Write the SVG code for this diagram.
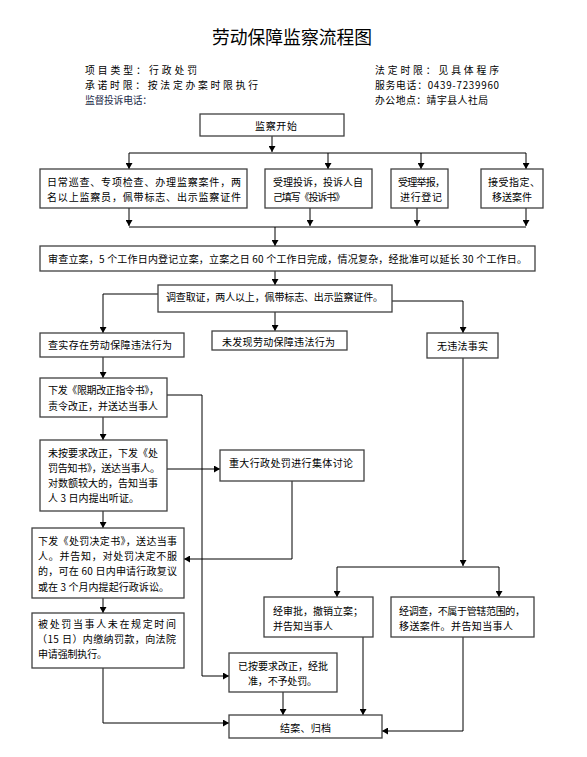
<svg xmlns="http://www.w3.org/2000/svg" width="587" height="757" viewBox="0 0 587 757">
<style>
text{font-family:"Noto Sans CJK SC","Noto Sans",sans-serif;fill:#000;}
.t{font-size:10px;}
.h{font-size:9.8px;}
.box{fill:#fff;stroke:#404040;stroke-width:1.3;}
.ln{fill:none;stroke:#000;stroke-width:1;}
</style>
<defs>
<marker id="ar" markerUnits="userSpaceOnUse" markerWidth="6" markerHeight="7" refX="6" refY="3.5" orient="auto">
<path d="M0,0 L6,3.5 L0,7 z" fill="#000"/>
</marker>
</defs>
<rect width="587" height="757" fill="#fff"/>
<g id="header">
<text x="292" y="44" font-size="18" text-anchor="middle" textLength="160" lengthAdjust="spacingAndGlyphs">劳动保障监察流程图</text>
<text class="h" x="85" y="73.5" textLength="112">项目类型：行政处罚</text>
<text class="h" x="85" y="88.5" textLength="173">承诺时限：按法定办案时限执行</text>
<text class="h" x="85" y="103.5" textLength="67" style="fill:#1c2b4a">监督投诉电话：</text>
<text class="h" x="375" y="73.5" textLength="124">法定时限：见具体程序</text>
<text class="h" x="375" y="88.5" textLength="124">服务电话：0439-7239960</text>
<text class="h" x="375" y="103.5" textLength="113">办公地点：靖宇县人社局</text>
</g>
<g id="connectors">
<path class="ln" d="M272,136 V152" marker-end="url(#ar)"/>
<path class="ln" d="M129,153 H526"/>
<path class="ln" d="M129,153 V169" marker-end="url(#ar)"/>
<path class="ln" d="M328,153 V169" marker-end="url(#ar)"/>
<path class="ln" d="M421,153 V169" marker-end="url(#ar)"/>
<path class="ln" d="M526,153 V169" marker-end="url(#ar)"/>
<path class="ln" d="M129,208 V226" marker-end="url(#ar)"/>
<path class="ln" d="M310,208 V226" marker-end="url(#ar)"/>
<path class="ln" d="M417,208 V226" marker-end="url(#ar)"/>
<path class="ln" d="M526,208 V226" marker-end="url(#ar)"/>
<path class="ln" d="M129,227 H526"/>
<path class="ln" d="M275,227 V246" marker-end="url(#ar)"/>
<path class="ln" d="M275,271 V285" marker-end="url(#ar)"/>
<path class="ln" d="M158,294 H103 V333" marker-end="url(#ar)"/>
<path class="ln" d="M392,301 H463 V333" marker-end="url(#ar)"/>
<path class="ln" d="M275,312 V331" marker-end="url(#ar)"/>
<path class="ln" d="M103,357 V378" marker-end="url(#ar)"/>
<path class="ln" d="M167,395 H202 V676 H229" marker-end="url(#ar)"/>
<path class="ln" d="M103,417 V440" marker-end="url(#ar)"/>
<path class="ln" d="M167,469 H220" marker-end="url(#ar)"/>
<path class="ln" d="M292,481 V559 H184" marker-end="url(#ar)"/>
<path class="ln" d="M103,511 V528" marker-end="url(#ar)"/>
<path class="ln" d="M103,598 V613" marker-end="url(#ar)"/>
<path class="ln" d="M103,668 V723 H229" marker-end="url(#ar)"/>
<path class="ln" d="M463,358 V566" marker-end="url(#ar)"/>
<path class="ln" d="M337,567 H499"/>
<path class="ln" d="M337,567 V597" marker-end="url(#ar)"/>
<path class="ln" d="M499,567 V597" marker-end="url(#ar)"/>
<path class="ln" d="M283,692 V715" marker-end="url(#ar)"/>
<path class="ln" d="M363,637 V715" marker-end="url(#ar)"/>
<path class="ln" d="M463,637 V731 H382" marker-end="url(#ar)"/>
</g>
<g id="n_start">
<rect class="box" x="200" y="114" width="144" height="22"/>
<text class="t" x="276" y="130" text-anchor="middle" textLength="42">监察开始</text>
</g>
<g id="n_daily">
<rect class="box" x="40" y="169" width="207" height="39"/>
<text class="t" x="47" y="186" textLength="194">日常巡查、专项检查、办理监察案件，两</text>
<text class="t" x="47" y="201" textLength="194">名以上监察员，佩带标志、出示监察证件</text>
</g>
<g id="n_complaint">
<rect class="box" x="265" y="169" width="107" height="39"/>
<text class="t" x="273" y="186" textLength="90">受理投诉，投诉人自</text>
<text class="t" x="273" y="201" textLength="72">己填写《投诉书》</text>
</g>
<g id="n_report">
<rect class="box" x="391" y="169" width="57" height="39"/>
<text class="t" x="398" y="186" textLength="47">受理举报，</text>
<text class="t" x="400" y="201" textLength="42">进行登记</text>
</g>
<g id="n_assign">
<rect class="box" x="481" y="169" width="62" height="39"/>
<text class="t" x="488" y="186" textLength="52">接受指定、</text>
<text class="t" x="492" y="201" textLength="40">移送案件</text>
</g>
<g id="n_review">
<rect class="box" x="40" y="246" width="495" height="25"/>
<text class="t" x="48" y="263" textLength="479">审查立案，5 个工作日内登记立案，立案之日 60 个工作日完成，情况复杂，经批准可以延长 30 个工作日。</text>
</g>
<g id="n_investigate">
<rect class="box" x="158" y="285" width="234" height="27"/>
<text class="t" x="166" y="301" textLength="217">调查取证，两人以上，佩带标志、出示监察证件。</text>
</g>
<g id="n_found">
<rect class="box" x="40" y="333" width="144" height="24"/>
<text class="t" x="48" y="349" textLength="124">查实存在劳动保障违法行为</text>
</g>
<g id="n_notfound">
<rect class="box" x="212" y="331" width="135" height="19"/>
<text class="t" x="222" y="346" textLength="113">未发现劳动保障违法行为</text>
</g>
<g id="n_nofact">
<rect class="box" x="427" y="333" width="71" height="25"/>
<text class="t" x="437" y="350" textLength="51">无违法事实</text>
</g>
<g id="n_order">
<rect class="box" x="40" y="378" width="127" height="39"/>
<text class="t" x="48" y="394" textLength="111">下发《限期改正指令书》，</text>
<text class="t" x="48" y="410" textLength="110">责令改正，并送达当事人</text>
</g>
<g id="n_notice">
<rect class="box" x="40" y="440" width="127" height="71"/>
<text class="t" x="48" y="457" textLength="110">未按要求改正，下发《处</text>
<text class="t" x="48" y="472" textLength="112">罚告知书》，送达当事人。</text>
<text class="t" x="48" y="487" textLength="110">对数额较大的，告知当事</text>
<text class="t" x="48" y="502" textLength="91">人 3 日内提出听证。</text>
</g>
<g id="n_discuss">
<rect class="box" x="220" y="450" width="144" height="31"/>
<text class="t" x="229" y="467" textLength="124">重大行政处罚进行集体讨论</text>
</g>
<g id="n_decision">
<rect class="box" x="32" y="528" width="152" height="70"/>
<text class="t" x="38" y="545" textLength="139">下发《处罚决定书》，送达当事</text>
<text class="t" x="38" y="560" textLength="139">人。并告知，对处罚决定不服</text>
<text class="t" x="38" y="575" textLength="139">的，可在 60 日内申请行政复议</text>
<text class="t" x="38" y="591" textLength="131">或在 3 个月内提起行政诉讼。</text>
</g>
<g id="n_enforce">
<rect class="box" x="32" y="613" width="152" height="55"/>
<text class="t" x="38" y="628" textLength="138">被处罚当事人未在规定时间</text>
<text class="t" x="37" y="643" textLength="139">（15 日）内缴纳罚款，向法院</text>
<text class="t" x="38" y="658" textLength="69">申请强制执行。</text>
</g>
<g id="n_revoke">
<rect class="box" x="264" y="597" width="109" height="40"/>
<text class="t" x="273" y="615" textLength="90">经审批，撤销立案；</text>
<text class="t" x="273" y="630" textLength="60">并告知当事人</text>
</g>
<g id="n_transfer">
<rect class="box" x="391" y="597" width="143" height="40"/>
<text class="t" x="399" y="615" textLength="126">经调查，不属于管辖范围的，</text>
<text class="t" x="399" y="630" textLength="114">移送案件。并告知当事人</text>
</g>
<g id="n_corrected">
<rect class="box" x="229" y="653" width="108" height="39"/>
<text class="t" x="238" y="670" textLength="90">已按要求改正，经批</text>
<text class="t" x="248" y="685" textLength="69">准，不予处罚。</text>
</g>
<g id="n_close">
<rect class="box" x="229" y="715" width="153" height="23"/>
<text class="t" x="280" y="732" textLength="51">结案、归档</text>
</g>
</svg>
